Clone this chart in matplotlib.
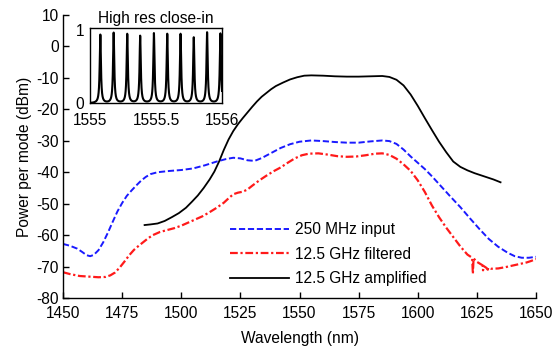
import numpy as np
import matplotlib
matplotlib.use("Agg")
import matplotlib.pyplot as plt

plt.rcParams['font.family'] = ['Liberation Sans', 'DejaVu Sans']
plt.rcParams['axes.unicode_minus'] = False

# ---- data ----
blue_wl = [1450, 1453, 1456, 1458, 1460, 1461.5, 1463, 1465, 1467, 1469, 1471, 1473, 1475, 1477,
           1479, 1481, 1483, 1485, 1487, 1490, 1495, 1500, 1505, 1510, 1515, 1519, 1522, 1525,
           1528, 1531, 1534, 1538, 1542, 1546, 1550, 1555, 1560, 1565, 1570, 1575, 1580, 1585,
           1588, 1591, 1594, 1597, 1600, 1603, 1606, 1610, 1614, 1618, 1622, 1626, 1630, 1634,
           1638, 1641, 1644, 1647, 1650]
blue_p = [-62.8, -63.4, -64.3, -65.3, -66.4, -66.7, -66.3, -64.8, -62.3, -59.2, -55.8, -52.5, -49.8, -47.5,
          -45.8, -44.2, -42.7, -41.5, -40.6, -40.0, -39.6, -39.3, -38.8, -37.8, -36.6, -35.8, -35.4, -35.6,
          -36.2, -36.4, -35.5, -33.9, -32.3, -31.1, -30.3, -29.9, -30.1, -30.4, -30.6, -30.6, -30.2, -29.9,
          -30.1, -31.0, -32.8, -35.0, -37.0, -39.0, -41.3, -44.6, -47.9, -51.1, -54.6, -58.0, -61.2, -63.7,
          -65.6, -66.7, -67.2, -67.2, -66.9]

red_wl = [1450, 1453, 1457, 1461, 1465, 1468, 1470, 1472, 1474, 1476, 1478, 1480, 1482, 1484, 1486,
          1488, 1491, 1494, 1497, 1500, 1503, 1506, 1509, 1512, 1515, 1518, 1520, 1522, 1524, 1526,
          1528, 1530, 1533, 1536, 1539, 1542, 1545, 1548, 1551, 1554, 1558, 1562, 1566, 1570, 1574,
          1578, 1582, 1585, 1588, 1591, 1594, 1597, 1600, 1603, 1606, 1609, 1612, 1615, 1618, 1621,
          1623, 1623.3, 1623.6, 1625, 1627.4, 1627.6, 1627.8, 1629, 1629.6, 1629.9, 1631, 1634, 1637,
          1640, 1643, 1646, 1648, 1650]
red_p = [-71.8, -72.4, -73.0, -73.2, -73.4, -73.3, -72.8, -71.9, -70.3, -68.4, -66.4, -64.7, -63.4, -62.2, -61.0,
         -60.0, -59.0, -58.4, -57.8, -57.0, -56.0, -55.0, -54.0, -52.7, -51.3, -49.7, -48.3, -47.0, -46.5, -46.2,
         -45.5, -44.3, -42.6, -41.1, -39.7, -38.5, -37.0, -35.6, -34.6, -34.1, -34.0, -34.4, -34.9, -35.1, -35.0,
         -34.6, -34.1, -34.0, -34.5, -35.7, -37.5, -39.6, -42.6, -46.3, -50.6, -54.3, -57.6, -60.6, -63.6, -66.2,
         -67.2, -72.3, -67.4, -68.5, -69.6, -71.2, -69.8, -70.4, -71.0, -70.4, -70.7, -70.6, -70.2,
         -69.7, -69.2, -68.7, -68.2, -67.6]

black_wl = [1484.5, 1487, 1490, 1493, 1496, 1499, 1502, 1504.5, 1507, 1509.5, 1512, 1514, 1516, 1518,
            1520, 1522, 1524, 1526, 1528, 1530, 1532, 1534, 1536, 1538, 1540, 1543, 1546, 1549, 1552,
            1555, 1560, 1565, 1570, 1575, 1580, 1585, 1588, 1591, 1594, 1597, 1600, 1603, 1606, 1609,
            1612, 1615, 1618, 1621, 1624, 1628, 1632, 1635]
black_p = [-56.8, -56.6, -56.3, -55.5, -54.3, -53.0, -51.3, -49.4, -47.4, -45.0, -42.3, -39.8, -36.6, -32.9,
           -29.6, -26.9, -24.7, -22.8, -21.0, -19.2, -17.5, -16.0, -14.8, -13.6, -12.6, -11.5, -10.5, -9.8, -9.3,
           -9.2, -9.3, -9.5, -9.6, -9.6, -9.5, -9.4, -9.7, -10.6, -12.4, -15.3, -18.9, -22.8, -26.6, -30.3,
           -33.6, -36.6, -38.3, -39.4, -40.3, -41.3, -42.3, -43.2]

labels = ['250 MHz input', '12.5 GHz filtered', '12.5 GHz amplified']

# inset: comb line positions (nm) and normalised heights
peak_wl = [1555.078, 1555.179, 1555.282, 1555.380, 1555.484, 1555.585, 1555.686, 1555.786, 1555.887, 1555.988]
peak_h = [0.94, 0.965, 0.948, 0.922, 0.957, 0.948, 0.948, 0.90, 0.97, 0.957]

# ---- figure ----
fig = plt.figure(figsize=(5.55, 3.47), dpi=100)
ax = fig.add_axes([0.1135, 0.1412, 0.8523, 0.8156])

fs = 11.2
lb, = ax.plot(blue_wl, blue_p, color='#1a1aff', lw=1.4, dashes=(3.2, 1.4))
lr, = ax.plot(red_wl, red_p, color='#ff1a1a', lw=1.6, dashes=(3.5, 1.2, 1.0, 1.2))
lk, = ax.plot(black_wl, black_p, color='black', lw=1.3)

ax.set_xlim(1450, 1650)
ax.set_ylim(-80, 10)
ax.set_xticks(np.arange(1450, 1651, 25))
ax.set_yticks(np.arange(-80, 11, 10))
for s in ['top', 'right']:
    ax.spines[s].set_visible(False)
for s in ['left', 'bottom']:
    ax.spines[s].set_linewidth(1.0)
ax.tick_params(direction='in', length=4, width=1.0, labelsize=fs)
ax.tick_params(axis='x', pad=6)
ax.tick_params(axis='y', pad=3)
ax.set_xlabel('Wavelength (nm)', fontsize=fs, labelpad=7)
ax.set_ylabel('Power per mode (dBm)', fontsize=fs, labelpad=3)

leg = ax.legend([lb, lr, lk], labels, loc='upper left', bbox_to_anchor=(0.353, 0.268),
                frameon=False, fontsize=fs, handlelength=3.8, handletextpad=0.35,
                labelspacing=0.62, borderaxespad=0, borderpad=0)

# ---- inset ----
ins = fig.add_axes([0.1622, 0.7023, 0.2378, 0.2161])
x = np.linspace(1555, 1556, 4001)
y = np.zeros_like(x)
for c, h in zip(peak_wl, peak_h):
    y += h / (1 + ((x - c) / 0.0055) ** 2)
ins.plot(x, y, color='black', lw=1.5)
ins.set_xlim(1555, 1556)
ins.set_ylim(0, 1.03)
ins.set_xticks([1555, 1555.5, 1556])
ins.set_xticklabels(['1555', '1555.5', '1556'])
ins.set_yticks([0, 1])
ins.tick_params(length=0, labelsize=fs)
ins.tick_params(axis='x', pad=7)
ins.tick_params(axis='y', pad=4)
for s in ins.spines.values():
    s.set_linewidth(1.0)
ins.set_title('High res close-in', fontsize=fs, pad=4)

fig.savefig('out.png', dpi=100)
